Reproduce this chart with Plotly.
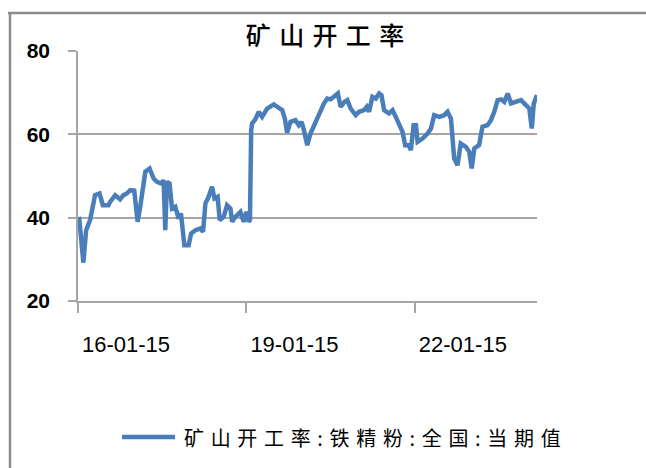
import plotly.graph_objects as go

# ---- data ----
dates = [
    "2016-01-22", "2016-02-19", "2016-03-08", "2016-04-03", "2016-05-05", "2016-06-03",
    "2016-06-25", "2016-07-31", "2016-08-11", "2016-09-13", "2016-10-15", "2016-11-06",
    "2016-11-28", "2016-12-20", "2017-01-15", "2017-02-06", "2017-02-23", "2017-03-28",
    "2017-04-25", "2017-05-21", "2017-06-12", "2017-07-10", "2017-07-25", "2017-08-05",
    "2017-08-16", "2017-09-02", "2017-09-18", "2017-10-09", "2017-10-31", "2017-11-15",
    "2017-12-07", "2018-01-04", "2018-01-20", "2018-02-17", "2018-03-21", "2018-04-08",
    "2018-04-23", "2018-05-14", "2018-06-05", "2018-06-21", "2018-07-12", "2018-07-25",
    "2018-08-20", "2018-09-11", "2018-10-03", "2018-10-14", "2018-11-04", "2018-12-07",
    "2018-12-28", "2019-01-15", "2019-01-30", "2019-02-07", "2019-02-15", "2019-02-21",
    "2019-03-14", "2019-04-05", "2019-04-27", "2019-05-30", "2019-07-12", "2019-08-13",
    "2019-09-05", "2019-09-22", "2019-10-07", "2019-10-29", "2019-11-30", "2019-12-22",
    "2020-01-09", "2020-01-24", "2020-02-15", "2020-03-07", "2020-03-29", "2020-04-20",
    "2020-05-11", "2020-06-02", "2020-06-24", "2020-07-16", "2020-08-06", "2020-09-01",
    "2020-09-19", "2020-10-15", "2020-11-02", "2020-11-23", "2020-12-26", "2021-01-17",
    "2021-02-19", "2021-03-08", "2021-03-23", "2021-04-14", "2021-05-06", "2021-05-28",
    "2021-06-12", "2021-06-29", "2021-07-31", "2021-08-23", "2021-09-13", "2021-10-05",
    "2021-10-27", "2021-11-13", "2021-12-05", "2021-12-20", "2022-01-07", "2022-01-22",
    "2022-02-02", "2022-03-06", "2022-04-08", "2022-04-30", "2022-05-21", "2022-06-23",
    "2022-07-25", "2022-08-16", "2022-09-07", "2022-09-28", "2022-10-20", "2022-11-10",
    "2022-12-13", "2023-01-04", "2023-01-20", "2023-02-06", "2023-03-09", "2023-03-31",
    "2023-05-03", "2023-05-25", "2023-06-16", "2023-07-08", "2023-07-30", "2023-08-20",
    "2023-09-11", "2023-10-03", "2023-11-04", "2023-12-07", "2024-01-08", "2024-01-30",
    "2024-02-15", "2024-02-28", "2024-03-20",
]
values = [
    40.2, 29.2, 37.0, 39.5, 45.4, 45.8,
    43.0, 43.0, 43.8, 45.4, 44.4, 45.4,
    45.8, 46.6, 46.5, 39.0, 42.6, 51.0,
    51.8, 49.4, 48.6, 48.2, 49.0, 37.0,
    48.6, 48.2, 42.2, 42.6, 39.8, 41.0,
    33.4, 33.4, 36.2, 37.0, 37.4, 36.6,
    43.4, 45.0, 47.4, 44.6, 45.0, 39.4,
    40.2, 43.0, 42.2, 39.0, 40.2, 41.4,
    39.0, 41.4, 39.0, 39.5, 61.0, 62.6,
    63.6, 65.4, 64.2, 66.2, 67.2, 66.2,
    65.8, 63.8, 60.4, 63.0, 63.4, 62.2,
    63.0, 61.0, 57.4, 60.2, 62.2, 64.2,
    65.4, 67.4, 68.6, 68.4, 69.0, 69.8,
    66.6, 67.8, 68.2, 66.2, 64.6, 65.4,
    65.8, 66.6, 65.4, 69.0, 68.6, 69.8,
    69.4, 65.8, 65.0, 65.8, 64.2, 62.6,
    60.6, 57.4, 57.4, 56.2, 62.2, 62.2,
    58.2, 59.0, 60.2, 61.4, 64.6, 64.2,
    64.6, 65.4, 63.8, 54.2, 52.6, 57.8,
    57.0, 55.8, 51.8, 56.6, 57.4, 61.8,
    62.2, 63.4, 65.4, 68.2, 68.4, 67.8,
    69.8, 67.4, 67.8, 68.2, 67.0, 66.2,
    61.4, 67.4, 69.4,
]
series_name = "矿山开工率:铁精粉:全国:当期值"
chart_title = "矿山开工率"
x_tick_vals = ["2016-01-15", "2019-01-15", "2022-01-15"]
x_tick_text = ["16-01-15", "19-01-15", "22-01-15"]
y_tick_vals = [20, 40, 60, 80]

LINE_COLOR = "#4a7ebb"
GRID = "#a6a6a6"
SP = "\u2004"  # letter spacing imitation


def spaced(s):
    return SP.join(list(s))


fig = go.Figure()
fig.add_trace(go.Scatter(
    x=dates, y=values, mode="lines", name=series_name,
    line=dict(color=LINE_COLOR, width=4.5), showlegend=False,
))

W, H = 646, 468
L, R, T, B = 78, 537, 51, 301
pw, ph = R - L, B - T


def px(x):
    return (x - L) / pw


def py(y):
    return (B - y) / ph


fig.update_layout(
    width=W, height=H,
    margin=dict(l=L, r=W - R, t=T, b=H - B, pad=0),
    paper_bgcolor="white", plot_bgcolor="white",
    title=dict(text=spaced(chart_title), x=325 / W, xanchor="center",
               y=1 - 36 / H, yanchor="middle",
               font=dict(family="Noto Sans CJK SC", size=25, color="black", weight=500)),
    xaxis=dict(
        type="date", range=[x_tick_vals[0], dates[-1]],
        tickvals=x_tick_vals, ticktext=x_tick_text,
        showgrid=False, showline=True, linecolor=GRID, linewidth=1.5,
        ticks="outside", ticklen=10, tickcolor=GRID, tickwidth=1.5,
        ticklabelshift=48, ticklabelstandoff=13,
        tickfont=dict(family="Liberation Sans", size=22, color="black"),
        zeroline=False,
    ),
    yaxis=dict(
        range=[20, 80], tickvals=y_tick_vals,
        showgrid=True, gridcolor=GRID, gridwidth=1.5,
        showline=True, linecolor=GRID, linewidth=1.5,
        ticks="outside", ticklen=8, tickcolor=GRID, tickwidth=1.5,
        ticklabelstandoff=14,
        tickfont=dict(family="Liberation Sans", size=21, color="black", weight="bold"),
        zeroline=False,
    ),
    shapes=[
        # outer frame (top and left edges visible)
        dict(type="line", xref="paper", yref="paper", x0=px(8), x1=px(660),
             y0=py(13), y1=py(13), line=dict(color="#8c8c8c", width=2.5)),
        dict(type="line", xref="paper", yref="paper", x0=px(10), x1=px(10),
             y0=py(13), y1=py(480), line=dict(color="#8c8c8c", width=2.5)),
        # legend sample line
        dict(type="line", xref="paper", yref="paper", x0=px(122), x1=px(175),
             y0=py(437), y1=py(437), line=dict(color=LINE_COLOR, width=4.5)),
    ],
    annotations=[
        dict(text=spaced(series_name), xref="paper", yref="paper",
             x=px(182), y=py(437), xanchor="left", yanchor="middle", showarrow=False,
             font=dict(family="Noto Sans CJK SC", size=20, color="black")),
    ],
)

fig.write_html("out.html")
